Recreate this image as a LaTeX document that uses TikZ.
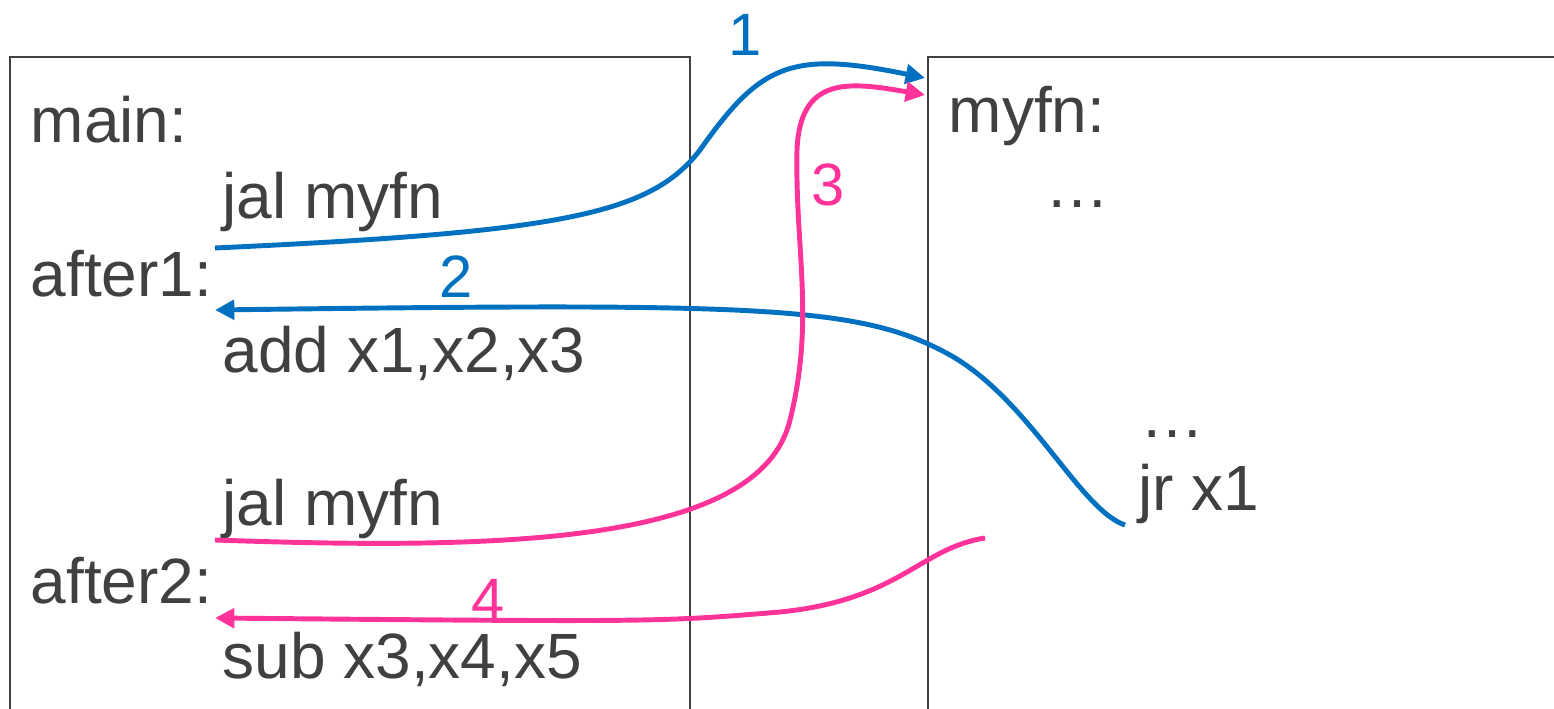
\documentclass[tikz,border=0pt]{standalone}
\usepackage{fontspec}
\setmainfont{Liberation Sans}
\usepackage{tikz}
\usetikzlibrary{arrows.meta,positioning}
\usepackage{xcolor}
\definecolor{txtgray}{HTML}{404040}
\definecolor{callblue}{HTML}{0070C0}
\definecolor{retpink}{HTML}{FF3399}

\begin{document}
\begin{tikzpicture}[x=0.01cm, y=-0.01cm,
  code/.style={anchor=base west, inner sep=0pt, text=txtgray, font=\fontsize{18.2}{22}\selectfont},
  num/.style={anchor=base, inner sep=0pt, font=\fontsize{17}{20}\selectfont},
  frame/.style={draw=txtgray, line width=0.6pt},
  call/.style={draw=callblue, line width=1.4pt, -{Triangle[length=5.5pt,width=5.5pt]}},
  ret/.style={draw=retpink, line width=1.4pt, -{Triangle[length=5.5pt,width=5.5pt]}}
]
\useasboundingbox (0,0) rectangle (1554,709);
\clip (0,0) rectangle (1554,709);

% Left box: main
\draw[frame] (10,760) -- (10,57) -- (690,57) -- (690,760);
\node[code] (main)   at (30,143)  {main:};
\node[code] (jal1)   at (222,218) {jal myfn};
\node[code] (after1) at (30,296)  {after1:};
\node[code] (add)    at (222,372) {add x1,x2,x3};
\node[code] (jal2)   at (222,525) {jal myfn};
\node[code] (after2) at (30,603)  {after2:};
\node[code] (sub)    at (222,678) {sub x3,x4,x5};

% Right box: myfn
\draw[frame] (1600,57) -- (928,57) -- (928,760);
\node[code] (myfn)  at (948,132)  {myfn:};
\node[code] (dots1) at (1045,207) {\char"2026};
\node[code] (dots2) at (1140,437) {\char"2026};
\node[code] (jr)    at (1138,510) {jr x1};

% End points of the arrows
\coordinate (c1s) at (215,248);
\coordinate (c1e) at (925,78);
\coordinate (r2s) at (1125,525);
\coordinate (r2e) at (215,310);
\coordinate (c3s) at (215,540);
\coordinate (c3e) at (925,95);
\coordinate (r4s) at (985,538);
\coordinate (r4e) at (215,618);

% 1: first call
\draw[call] (c1s) .. controls (560,232) and (650,215) .. (700,150)
  .. controls (760,65) and (790,50) .. (c1e);
\node[num, text=callblue] (n1) at (745,55) {1};

% 2: return to after1
\draw[call] (r2s) .. controls (1080,510) and (1030,400) .. (950,355)
  .. controls (860,305) and (760,303) .. (r2e);
\node[num, text=callblue] (n2) at (456,297) {2};

% 3: second call
\draw[ret] (c3s) .. controls (500,550) and (760,545) .. (790,420)
  .. controls (815,320) and (795,250) .. (797,150)
  .. controls (800,75) and (850,82) .. (c3e);
\node[num, text=retpink] (n3) at (828,205) {3};

% 4: return to after2
\draw[ret] (r4s) .. controls (920,548) and (900,600) .. (780,612)
  .. controls (660,622) .. (r4e);
\node[num, text=retpink] (n4) at (488,620) {4};
\end{tikzpicture}
\end{document}
